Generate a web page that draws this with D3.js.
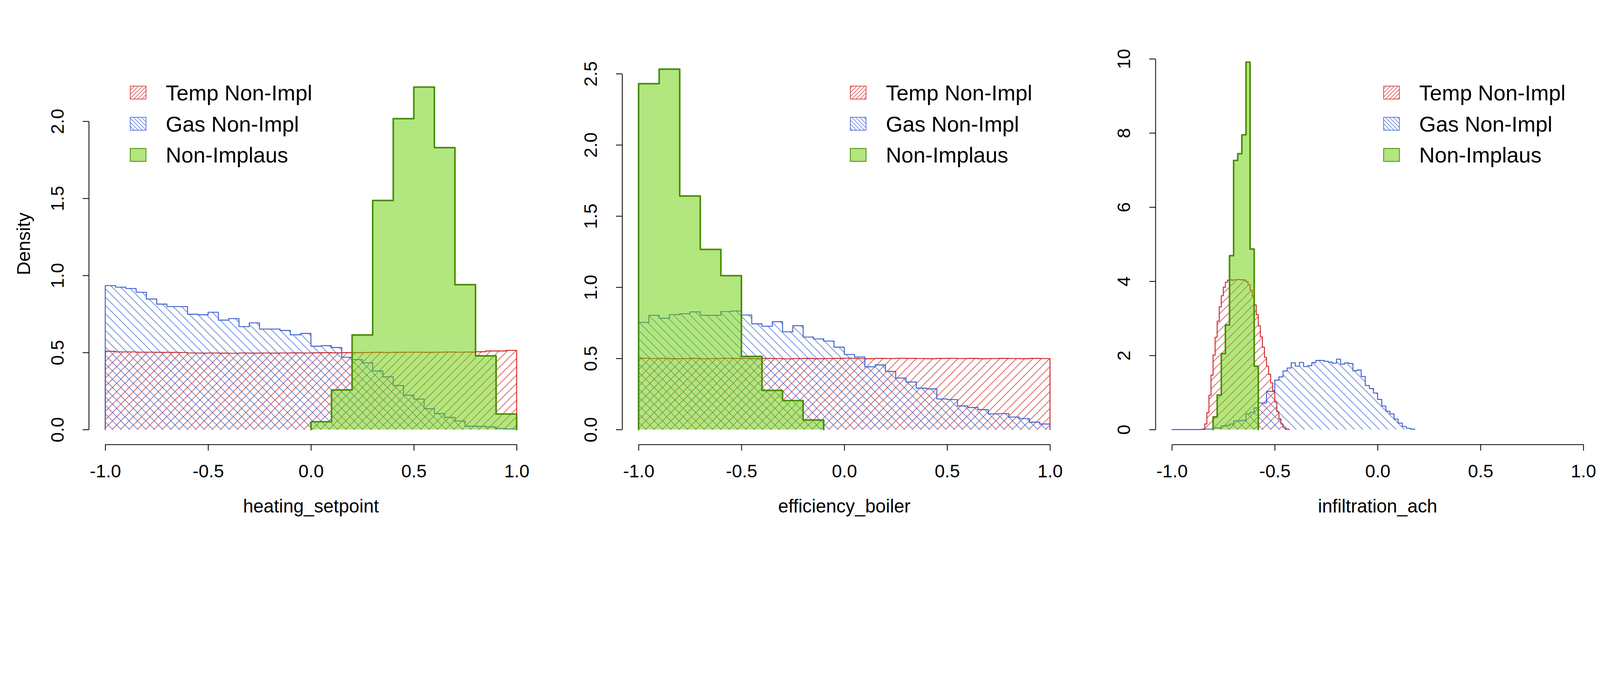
<!DOCTYPE html>
<html>
<head>
<meta charset="utf-8">
<script src="https://cdn.jsdelivr.net/npm/d3@7"></script>
<style>
html, body { margin: 0; padding: 0; background: #fff; overflow: hidden; }
#chart { width: 100vw; }
text { font-family: "Liberation Sans", Arial, sans-serif; }
</style>
</head>
<body>
<div id="chart"></div>
<script>
// ---- data (densities) ----
var seriesNames = ["Temp Non-Impl", "Gas Non-Impl", "Non-Implaus"];
var xTitles = ["heating_setpoint", "efficiency_boiler", "infiltration_ach"];
var xTicks = [-1.0, -0.5, 0.0, 0.5, 1.0];

// heating_setpoint
var heatTempStart = -1.0, heatTempWidth = 0.05;
var heatTemp = [0.508, 0.504, 0.504, 0.502, 0.502, 0.501, 0.501, 0.500, 0.497, 0.496,
                0.497, 0.496, 0.495, 0.497, 0.496, 0.497, 0.496, 0.497, 0.498, 0.497,
                0.498, 0.499, 0.498, 0.499, 0.499, 0.500, 0.501, 0.500, 0.501, 0.502,
                0.502, 0.501, 0.502, 0.503, 0.502, 0.503, 0.505, 0.510, 0.510, 0.514];
var heatGasStart = -1.0, heatGasWidth = 0.05;
var heatGas = [0.934, 0.924, 0.915, 0.891, 0.847, 0.814, 0.798, 0.798, 0.748, 0.745,
               0.761, 0.710, 0.720, 0.668, 0.692, 0.652, 0.652, 0.643, 0.615, 0.624,
               0.541, 0.544, 0.532, 0.469, 0.454, 0.433, 0.380, 0.342, 0.286, 0.223,
               0.198, 0.135, 0.104, 0.079, 0.056, 0.022, 0.021, 0.017, 0.007, 0.004];
var heatPlausStart = 0.0, heatPlausWidth = 0.1;
var heatPlaus = [0.051, 0.257, 0.614, 1.486, 2.017, 2.222, 1.829, 0.940, 0.478, 0.101];
var heatYTicks = [0, 0.5, 1.0, 1.5, 2.0];

// efficiency_boiler
var effTempStart = -1.0, effTempWidth = 0.05;
var effTemp = [0.501, 0.499, 0.500, 0.498, 0.499, 0.500, 0.498, 0.499, 0.501, 0.500,
               0.499, 0.498, 0.500, 0.499, 0.497, 0.499, 0.500, 0.498, 0.499, 0.500,
               0.501, 0.499, 0.498, 0.500, 0.499, 0.501, 0.500, 0.499, 0.498, 0.500,
               0.501, 0.499, 0.500, 0.498, 0.499, 0.500, 0.499, 0.498, 0.500, 0.499];
var effGasStart = -1.0, effGasWidth = 0.05;
var effGas = [0.753, 0.803, 0.782, 0.807, 0.814, 0.827, 0.803, 0.803, 0.829, 0.833,
              0.805, 0.743, 0.726, 0.758, 0.687, 0.730, 0.650, 0.637, 0.622, 0.579,
              0.528, 0.510, 0.441, 0.454, 0.409, 0.362, 0.334, 0.291, 0.286, 0.215,
              0.211, 0.166, 0.155, 0.140, 0.110, 0.112, 0.088, 0.077, 0.052, 0.039];
var effPlausStart = -1.0, effPlausWidth = 0.1;
var effPlaus = [2.430, 2.532, 1.641, 1.266, 1.081, 0.514, 0.275, 0.204, 0.067];
var effYTicks = [0, 0.5, 1.0, 1.5, 2.0, 2.5];

// infiltration_ach
var infTempStart = -0.85, infTempWidth = 0.01;
var infTemp = [0.02, 0.153, 0.458, 0.925, 1.47, 2.01, 2.49, 2.925, 3.31, 3.61,
               3.84, 3.975, 4.03, 4.04, 4.03, 4.04, 4.04, 4.05, 4.04, 4.04,
               4.03, 3.99, 3.91, 3.76, 3.60, 3.36, 3.10, 2.80, 2.50, 2.22,
               1.95, 1.71, 1.49, 1.26, 1.05, 0.74, 0.48, 0.29, 0.15, 0.056,
               0.01, 0.01];
var infGasStart = -1.0, infGasWidth = 0.02;
var infGas = [0, 0, 0, 0, 0, 0, 0, 0.005, 0.014, 0.014,
              0.04, 0.05, 0.10, 0.11, 0.15, 0.236, 0.236, 0.25, 0.425, 0.467,
              0.585, 0.717, 0.717, 1.03, 1.03, 1.333, 1.42, 1.58, 1.66, 1.80,
              1.71, 1.81, 1.70, 1.725, 1.806, 1.864, 1.864, 1.842, 1.82, 1.79,
              1.90, 1.764, 1.80, 1.78, 1.586, 1.606, 1.431, 1.189, 1.106, 0.986,
              0.814, 0.633, 0.494, 0.425, 0.281, 0.175, 0.083, 0.036, 0.014];
var infPlausStart = -0.80, infPlausWidth = 0.02;
var infPlaus = [0.342, 0.933, 2.05, 2.82, 4.69, 7.26, 7.44, 7.95, 9.91, 4.87, 1.71];
var infYTicks = [0, 2, 4, 6, 8, 10];

var yLimits = [2.41, 2.61, 10.02];

// ---- drawing ----
var W = 5184, H = 1728, panelW = 1728;
var red = "#CD2626", blue = "#3A5FCD", greenLine = "#458B00", greenFill = "rgba(102,205,0,0.5)";

// viewBox keeps the 5184x1728 layout whatever the css pixel ratio is
var svg = d3.select("#chart").append("svg")
    .attr("viewBox", "0 0 " + W + " " + H)
    .attr("preserveAspectRatio", "xMinYMin meet")
    .style("width", "100%")
    .style("height", "auto")
    .style("display", "block");

svg.append("rect").attr("width", W).attr("height", H).attr("fill", "#fff");

var defs = svg.append("defs");
function makeHatch(id, size, color, dir, sw) {
    var p = defs.append("pattern")
        .attr("id", id)
        .attr("patternUnits", "userSpaceOnUse")
        .attr("width", size)
        .attr("height", size);
    var d;
    if (dir == "up") {
        d = "M-2,2 L2,-2 M0," + size + " L" + size + ",0 M" + (size - 2) + "," + (size + 2) + " L" + (size + 2) + "," + (size - 2);
    } else {
        d = "M-2," + (size - 2) + " L2," + (size + 2) + " M0,0 L" + size + "," + size + " M" + (size - 2) + ",-2 L" + (size + 2) + ",2";
    }
    p.append("path").attr("d", d).attr("stroke", color).attr("stroke-width", sw).attr("fill", "none");
}
makeHatch("hatchRed", 27, red, "up", 1.8);
makeHatch("hatchBlue", 27, blue, "down", 1.8);
makeHatch("legRed", 13, red, "up", 1.6);
makeHatch("legBlue", 13, blue, "down", 1.6);

var panels = [
    {hists: [[heatTempStart, heatTempWidth, heatTemp], [heatGasStart, heatGasWidth, heatGas], [heatPlausStart, heatPlausWidth, heatPlaus]],
     yTicks: heatYTicks, fmt: d3.format(".1f"), legendX: 422},
    {hists: [[effTempStart, effTempWidth, effTemp], [effGasStart, effGasWidth, effGas], [effPlausStart, effPlausWidth, effPlaus]],
     yTicks: effYTicks, fmt: d3.format(".1f"), legendX: 1027},
    {hists: [[infTempStart, infTempWidth, infTemp], [infGasStart, infGasWidth, infGas], [infPlausStart, infPlausWidth, infPlaus]],
     yTicks: infYTicks, fmt: d3.format("d"), legendX: 1027}
];

function stepPath(h, x, y, close) {
    var start = h[0], width = h[1], vals = h[2];
    var p = d3.path();
    p.moveTo(x(start), y(0));
    vals.forEach(function(v, i) {
        p.lineTo(x(start + i * width), y(v));
        p.lineTo(x(start + (i + 1) * width), y(v));
    });
    p.lineTo(x(start + vals.length * width), y(0));
    if (close) p.closePath();
    return p.toString();
}

var styles = [
    {fill: "url(#hatchRed)", stroke: red, sw: 3},
    {fill: "url(#hatchBlue)", stroke: blue, sw: 3},
    {fill: greenFill, stroke: greenLine, sw: 5}
];
var legendStyles = [
    {fill: "url(#legRed)", stroke: red, sw: 2},
    {fill: "url(#legBlue)", stroke: blue, sw: 2},
    {fill: greenFill, stroke: greenLine, sw: 2.5}
];

panels.forEach(function(panel, pi) {
    var off = pi * panelW;
    var M = yLimits[pi];
    var x = d3.scaleLinear().domain([-1.08, 1.08]).range([off + 287.7, off + 1727.3]);
    var y = d3.scaleLinear().domain([-0.04 * M, 1.04 * M]).range([1440, 140]);

    var g = svg.append("g");

    panel.hists.forEach(function(h, si) {
        var st = styles[si];
        g.append("path")
            .attr("d", stepPath(h, x, y, true))
            .attr("fill", st.fill)
            .attr("stroke", "none");
        g.append("path")
            .attr("d", stepPath(h, x, y, false))
            .attr("fill", "none")
            .attr("stroke", st.stroke)
            .attr("stroke-width", st.sw)
            .attr("stroke-linejoin", "round")
            .attr("stroke-linecap", "round");
    });

    // x axis, only from -1 to 1 like R
    var xa = d3.scaleLinear().domain([-1, 1]).range([x(-1), x(1)]);
    var gx = svg.append("g")
        .attr("transform", "translate(0,1440)")
        .call(d3.axisBottom(xa).tickValues(xTicks).tickFormat(d3.format(".1f")).tickSize(20).tickSizeOuter(0));
    gx.select(".domain").attr("stroke-width", 2.6);
    gx.selectAll(".tick line").attr("stroke-width", 2.6);
    gx.selectAll(".tick text")
        .attr("y", 107)
        .attr("dy", null)
        .attr("font-size", 59)
        .attr("fill", "#000")
        .text(function(d) { return d3.format(".1f")(d).replace("−", "-"); });

    var t = panel.yTicks;
    var ya = d3.scaleLinear().domain([t[0], t[t.length - 1]]).range([y(t[0]), y(t[t.length - 1])]);
    var gy = svg.append("g")
        .attr("transform", "translate(" + x(-1.08) + ",0)")
        .call(d3.axisLeft(ya).tickValues(t).tickFormat(panel.fmt).tickSize(20).tickSizeOuter(0));
    gy.select(".domain").attr("stroke-width", 2.6);
    gy.selectAll(".tick line").attr("stroke-width", 2.6);
    gy.selectAll(".tick text")
        .attr("x", null)
        .attr("dy", null)
        .attr("text-anchor", "middle")
        .attr("transform", "translate(-82,0) rotate(-90)")
        .attr("font-size", 59)
        .attr("fill", "#000");
    svg.selectAll(".domain").attr("fill", "none");

    svg.append("text")
        .attr("x", x(0))
        .attr("y", 1660)
        .attr("text-anchor", "middle")
        .attr("font-size", 60)
        .text(xTitles[pi]);

    // legend
    var lg = svg.append("g");
    var rowY = [300, 401, 502];
    seriesNames.forEach(function(name, si) {
        var ls = legendStyles[si];
        lg.append("rect")
            .attr("x", off + panel.legendX)
            .attr("y", rowY[si] - 21)
            .attr("width", 51)
            .attr("height", 42)
            .attr("fill", ls.fill)
            .attr("stroke", ls.stroke)
            .attr("stroke-width", ls.sw);
        lg.append("text")
            .attr("x", off + panel.legendX + 115)
            .attr("y", rowY[si] + 25)
            .attr("font-size", 70)
            .text(name);
    });
});

svg.append("text")
    .attr("transform", "translate(97,790) rotate(-90)")
    .attr("text-anchor", "middle")
    .attr("font-size", 61)
    .text("Density");
</script>
</body>
</html>
